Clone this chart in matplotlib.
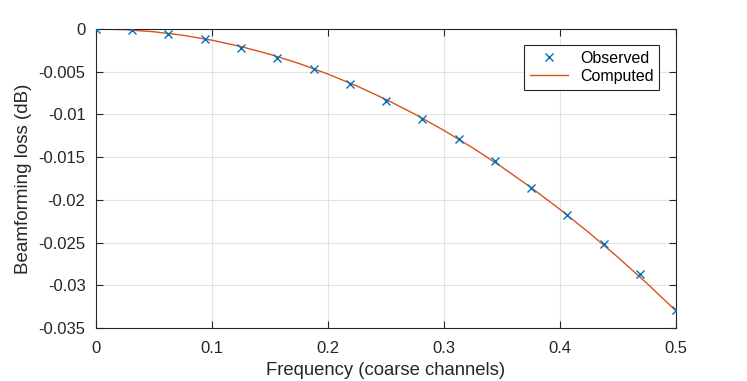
import matplotlib.pyplot as plt

plt.rcParams['font.family'] = ['Liberation Sans', 'DejaVu Sans']
plt.rcParams['axes.unicode_minus'] = False

# observed points (every 1/32 of a coarse channel)
obs_freq = [0, 0.03125, 0.0625, 0.09375, 0.125, 0.15625, 0.1875, 0.21875, 0.25,
            0.28125, 0.3125, 0.34375, 0.375, 0.40625, 0.4375, 0.46875, 0.5]
obs_loss = [0, -0.00012, -0.00059, -0.00117, -0.00222, -0.00339, -0.00468, -0.00644,
            -0.00843, -0.01054, -0.01288, -0.01545, -0.01861, -0.02177, -0.02517,
            -0.02868, -0.03289]

# computed curve
calc_freq = [0, 0.025, 0.05, 0.075, 0.1, 0.125, 0.15, 0.175, 0.2, 0.225, 0.25,
             0.275, 0.3, 0.325, 0.35, 0.375, 0.4, 0.425, 0.45, 0.475, 0.5]
calc_loss = [0, -0.00008, -0.00033, -0.00074, -0.00132, -0.00206, -0.00297, -0.00404,
             -0.00528, -0.00668, -0.00825, -0.00998, -0.01188, -0.01394, -0.01617,
             -0.01856, -0.02112, -0.02384, -0.02673, -0.02978, -0.0330]

yticks = [0, -0.005, -0.01, -0.015, -0.02, -0.025, -0.03, -0.035]
ytick_labels = ['0', '-0.005', '-0.01', '-0.015', '-0.02', '-0.025', '-0.03', '-0.035']
xticks = [0, 0.1, 0.2, 0.3, 0.4, 0.5]
xtick_labels = ['0', '0.1', '0.2', '0.3', '0.4', '0.5']

fig = plt.figure(figsize=(7.47, 3.81), dpi=100)
ax = fig.add_axes([0.1285, 0.139, 0.7765, 0.785])

ax.plot(obs_freq, obs_loss, 'x', color='#0072BD', markersize=6, markeredgewidth=1.0,
        label='Observed', zorder=3)
ax.plot(calc_freq, calc_loss, '-', color='#D95319', linewidth=1.0, label='Computed', zorder=2)

ax.set_xlim(0, 0.5)
ax.set_ylim(-0.035, 0)
ax.set_xticks(xticks)
ax.set_xticklabels(xtick_labels)
ax.set_yticks(yticks)
ax.set_yticklabels(ytick_labels)

ax.grid(True, color='#e3e3e3', linewidth=0.8)
ax.set_axisbelow(True)
ax.tick_params(direction='in', top=True, right=True, length=5, width=0.8,
               colors='#262626', labelsize=12)
ax.tick_params(axis='x', pad=9.5)
ax.tick_params(axis='y', pad=7.5)
for s in ax.spines.values():
    s.set_color('#262626')
    s.set_linewidth(0.8)

ax.set_xlabel('Frequency (coarse channels)', fontsize=13.3, color='#262626', labelpad=4)
ax.set_ylabel('Beamforming loss (dB)', fontsize=13.5, color='#262626', labelpad=5)

leg = ax.legend(loc='upper right', bbox_to_anchor=(0.9707, 0.9465), borderaxespad=0,
                fontsize=11.5, fancybox=False, framealpha=1, edgecolor='#262626',
                handlelength=2.4, borderpad=0.35, labelspacing=0.22, handletextpad=0.75)
leg.get_frame().set_linewidth(0.8)

fig.savefig('out.png', dpi=100)
